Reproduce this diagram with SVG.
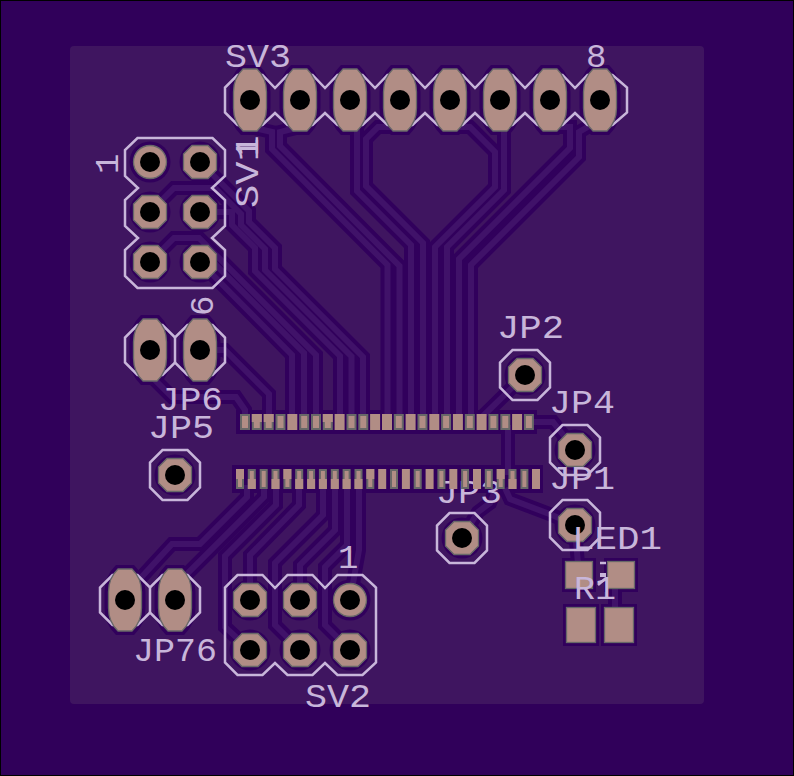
<svg xmlns="http://www.w3.org/2000/svg" xmlns:xlink="http://www.w3.org/1999/xlink" width="794" height="776" viewBox="0 0 794 776">
<style>
.halo{fill:none;stroke:#31005c;stroke-width:14;stroke-linejoin:miter}
.tr{fill:none;stroke:#401269;stroke-width:6;stroke-linejoin:miter}
.hp{fill:#31005c}
.silk{fill:none;stroke:#c8b6da;stroke-width:2.5;stroke-linejoin:miter}
.t{font-family:"Liberation Mono","DejaVu Sans Mono",monospace;font-size:34px;fill:#c8b6da}
.pad{fill:#b18d85;stroke:#686868;stroke-width:1.3}
.hole{fill:#000}
.g{fill:#686868}.p{fill:#b18d85}
</style>
<defs>
<polygon id="oct" class="pad" points="-8,-16.5 8,-16.5 16.5,-8 16.5,8 8,16.5 -8,16.5 -16.5,8 -16.5,-8"/>
<g id="po"><use href="#oct"/><circle class="hole" r="10"/></g>
<g id="pr"><circle class="pad" r="16.5"/><circle class="hole" r="10"/></g>
<g id="pl"><path class="pad" d="M-7,-31 L7,-31 Q16.5,-22 16.5,-8 L16.5,8 Q16.5,22 7,31 L-7,31 Q-16.5,22 -16.5,8 L-16.5,-8 Q-16.5,-22 -7,-31Z"/><circle class="hole" r="10"/></g>
<polygon id="so" class="silk" points="-12.5,-25 12.5,-25 25,-12.5 25,12.5 12.5,25 -12.5,25 -25,12.5 -25,-12.5"/>
<path id="hl" class="hp" d="M-9,-35 L9,-35 Q20.5,-24 20.5,-8 L20.5,8 Q20.5,24 9,35 L-9,35 Q-20.5,24 -20.5,8 L-20.5,-8 Q-20.5,-24 -9,-35Z"/>
<g id="tF"><rect class="g" width="10" height="16"/><rect class="p" x="2" y="2" width="6" height="12"/></g>
<g id="tS"><rect class="p" width="10" height="16"/></g>
<g id="tT"><rect class="g" width="10" height="16"/><rect class="p" y="0" width="10" height="8"/><rect class="p" x="2" y="2" width="6" height="12"/></g>
<g id="bF"><rect class="g" width="8" height="20"/><rect class="p" x="2" y="2" width="4" height="16"/></g>
<g id="bS"><rect class="p" width="8" height="20"/></g>
<g id="bA"><rect class="g" width="8" height="20"/><rect class="p" y="10" width="8" height="10"/><rect class="p" x="2" y="2" width="4" height="10"/></g>
<g id="bB"><rect class="g" width="8" height="20"/><rect class="p" width="8" height="10"/><rect class="p" x="2" y="8" width="4" height="10"/></g>
</defs>

<rect x="0.5" y="0.5" width="793" height="775" fill="#30005a" stroke="#000" stroke-width="1"/>
<rect id="board" x="70" y="46" width="634" height="658" rx="4" fill="#3f1560"/>

<g id="pad-clearance">
<use href="#hl" x="250" y="100"/><use href="#hl" x="300" y="100"/><use href="#hl" x="350" y="100"/><use href="#hl" x="400" y="100"/>
<use href="#hl" x="450" y="100"/><use href="#hl" x="500" y="100"/><use href="#hl" x="550" y="100"/><use href="#hl" x="600" y="100"/>
<use href="#hl" x="150" y="350"/><use href="#hl" x="200" y="350"/><use href="#hl" x="125" y="600"/><use href="#hl" x="175" y="600"/>
<circle class="hp" cx="150" cy="162" r="20.5"/><circle class="hp" cx="200" cy="162" r="20.5"/><circle class="hp" cx="150" cy="212" r="20.5"/><circle class="hp" cx="200" cy="212" r="20.5"/><circle class="hp" cx="150" cy="262" r="20.5"/><circle class="hp" cx="200" cy="262" r="20.5"/>
<circle class="hp" cx="250" cy="600" r="20.5"/><circle class="hp" cx="300" cy="600" r="20.5"/><circle class="hp" cx="350" cy="600" r="20.5"/><circle class="hp" cx="250" cy="650" r="20.5"/><circle class="hp" cx="300" cy="650" r="20.5"/><circle class="hp" cx="350" cy="650" r="20.5"/>
<circle class="hp" cx="175" cy="475" r="20.5"/><circle class="hp" cx="525" cy="375" r="20.5"/><circle class="hp" cx="575" cy="450" r="20.5"/><circle class="hp" cx="575" cy="525" r="20.5"/><circle class="hp" cx="462" cy="538" r="20.5"/>
<rect class="hp" x="562" y="558" width="34" height="34"/><rect class="hp" x="604" y="558" width="34" height="34"/><rect class="hp" x="563" y="604" width="36" height="42"/><rect class="hp" x="601" y="604" width="36" height="42"/>
<rect class="hp" x="236" y="410" width="301" height="24"/><rect class="hp" x="232" y="465" width="311" height="28"/>
</g>

<g id="connectors">
<defs>
<path id="c1" d="M250,127 L272,132 L272,149 L387.5,265 L387.5,420"/>
<path id="c2" d="M300,127 L280,132 L280,146 L399.5,266 L399.5,420"/>
<path id="c3" d="M350,120 L357,130 L357,191 L411,245 L411,420"/>
<path id="c4" d="M400,127 L378,127 L366,139 L366,186 L423,243 L423,420"/>
<path id="c5" d="M450,127 L470,127 L495,152 L495,187 L435,247 L435,420"/>
<path id="c6" d="M500,120 L504,132 L504,190 L447,247 L447,420"/>
<path id="c7" d="M550,127 L570,127 L570,148 L459,259 L459,420"/>
<path id="c8" d="M600,120 L579,132 L579,157 L471,265 L471,420"/>
<path id="c10" d="M200,162 L249,211 L249,222 L275,248 L275,269 L363,357 L363,420"/>
<path id="c9" d="M150,212 L174,188 L215,188 L241,214 L241,225 L265,249 L265,270 L351.5,356.5 L351.5,420"/>
<path id="c88" d="M200,212 L232,212 L232,225 L255,248 L255,271 L340,356 L340,420"/>
<path id="c66" d="M150,262 L174,238 L199,238 L316,355 L316,420"/>
<path id="c55" d="M200,249 L304,353 L304,420"/>
<path id="c44" d="M200,262 L292,355 L292,420"/>
<path id="c22" d="M200,350 L225,350 L269,394 L269,420"/>
<path id="c00" d="M150,375 L172,397 L236,397 L245,410 L245,420"/>
<path id="b1" d="M247,485 L247,497 L200,544 L172,544 L125,595"/>
<path id="b2" d="M264,485 L264,497 L185,576 L175,600"/>
<path id="b3" d="M276,485 L276,505 L225,556 L225,627 L250,650"/>
<path id="b4" d="M299,485 L299,505 L250,555 L250,600"/>
<path id="b5" d="M323,485 L323,515 L275,563 L275,625 L300,650"/>
<path id="b6" d="M335,485 L335,530 L300,565 L300,600"/>
<path id="b7" d="M347,485 L347,545 L325,567 L325,625 L350,650"/>
<path id="b8" d="M359,485 L359,550 L350,600"/>
<path id="r1" d="M525,375 L482,417"/>
<path id="r2" d="M575,450 L553,422 L530,422"/>
<path id="r3" d="M575,525 L552,515 L510,499 L505,488"/>
<path id="r4" d="M462,538 L478,512 L490,503 L496,488"/>
<path id="r5" d="M508,425 L508,475"/>
<path id="r6" d="M579,575 L575,530"/>
<path id="r7" d="M615,575 L615,625"/>
</defs>
<g class="halo">
<use href="#c1"/><use href="#c2"/><use href="#c3"/><use href="#c4"/><use href="#c5"/><use href="#c6"/><use href="#c7"/><use href="#c8"/>
<use href="#c10"/><use href="#c9"/><use href="#c88"/><use href="#c66"/><use href="#c55"/><use href="#c44"/><use href="#c22"/><use href="#c00"/>
<use href="#b1"/><use href="#b2"/><use href="#b3"/><use href="#b4"/><use href="#b5"/><use href="#b6"/><use href="#b7"/><use href="#b8"/>
<use href="#r1"/><use href="#r2"/><use href="#r3"/><use href="#r4"/><use href="#r5"/><use href="#r6"/><use href="#r7"/>
</g>
<g class="tr">
<use href="#c1"/><use href="#c2"/><use href="#c3"/><use href="#c4"/><use href="#c5"/><use href="#c6"/><use href="#c7"/><use href="#c8"/>
<use href="#c10"/><use href="#c9"/><use href="#c88"/><use href="#c66"/><use href="#c55"/><use href="#c44"/><use href="#c22"/><use href="#c00"/>
<use href="#b1"/><use href="#b2"/><use href="#b3"/><use href="#b4"/><use href="#b5"/><use href="#b6"/><use href="#b7"/><use href="#b8"/>
<use href="#r1"/><use href="#r2"/><use href="#r3"/><use href="#r4"/><use href="#r5"/><use href="#r6"/><use href="#r7"/>
</g>
</g>

<g id="SV3">
<polygon class="silk" points="237.5,75 262.5,75 275,88 287.5,75 312.5,75 325,88 337.5,75 362.5,75 375,88 387.5,75 412.5,75 425,88 437.5,75 462.5,75 475,88 487.5,75 512.5,75 525,88 537.5,75 562.5,75 575,88 587.5,75 612.5,75 627,87.5 627,112.5 612.5,125 587.5,125 575,113 562.5,125 537.5,125 525,113 512.5,125 487.5,125 475,113 462.5,125 437.5,125 425,113 412.5,125 387.5,125 375,113 362.5,125 337.5,125 325,113 312.5,125 287.5,125 275,113 262.5,125 237.5,125 225,112.5 225,87.5"/>
<text class="t" x="225" y="67" textLength="66" lengthAdjust="spacingAndGlyphs">SV3</text>
<text class="t" x="586" y="67">8</text>
<text class="t" transform="translate(258,156) rotate(-90)">1</text>
<use href="#pl" x="250" y="100"/><use href="#pl" x="300" y="100"/><use href="#pl" x="350" y="100"/><use href="#pl" x="400" y="100"/>
<use href="#pl" x="450" y="100"/><use href="#pl" x="500" y="100"/><use href="#pl" x="550" y="100"/><use href="#pl" x="600" y="100"/>
</g>

<g id="SV1">
<polygon class="silk" points="137.5,138 212.5,138 225,150 225,176 212,188 225,200 225,226 212,238 225,250 225,276 212.5,288 137.5,288 125,276 125,250 138,238 125,226 125,200 138,188 125,176 125,150"/>
<text class="t" transform="translate(118,174) rotate(-90)">1</text>
<text class="t" transform="translate(213,316) rotate(-90)">6</text>
<text class="t" transform="translate(258,208) rotate(-90)" textLength="70" lengthAdjust="spacingAndGlyphs">SV1</text>
<use href="#pr" x="150" y="162"/><use href="#po" x="200" y="162"/><use href="#po" x="150" y="212"/><use href="#po" x="200" y="212"/><use href="#po" x="150" y="262"/><use href="#po" x="200" y="262"/>
</g>

<g id="JP6">
<polygon class="silk" points="137.5,325 162.5,325 175,337.5 187.5,325 212.5,325 225,337.5 225,362.5 212.5,375 187.5,375 175,362.5 162.5,375 137.5,375 125,362.5 125,337.5"/>
<line class="silk" x1="175" y1="337.5" x2="175" y2="362.5"/>
<text class="t" x="158" y="410" textLength="65" lengthAdjust="spacingAndGlyphs">JP6</text>
<use href="#pl" x="150" y="350"/><use href="#pl" x="200" y="350"/>
</g>

<g id="JP5"><use href="#so" x="175" y="475"/><text class="t" x="148" y="438" textLength="66" lengthAdjust="spacingAndGlyphs">JP5</text><use href="#po" x="175" y="475"/></g>
<g id="JP2"><use href="#so" x="525" y="375"/><text class="t" x="497" y="338" textLength="67" lengthAdjust="spacingAndGlyphs">JP2</text><use href="#po" x="525" y="375"/></g>
<g id="JP4"><use href="#so" x="575" y="450"/><text class="t" x="549" y="413" textLength="66" lengthAdjust="spacingAndGlyphs">JP4</text><use href="#po" x="575" y="450"/></g>
<g id="JP3"><use href="#so" x="462" y="538"/><text class="t" x="436" y="503" textLength="66" lengthAdjust="spacingAndGlyphs">JP3</text><use href="#po" x="462" y="538"/></g>
<g id="JP1"><use href="#so" x="575" y="525"/><text class="t" x="549" y="489" textLength="66" lengthAdjust="spacingAndGlyphs">JP1</text><use href="#po" x="575" y="525"/></g>

<g id="JP7">
<polygon class="silk" points="112.5,575 137.5,575 150,587.5 162.5,575 187.5,575 200,587.5 200,612.5 187.5,625 162.5,625 150,612.5 137.5,625 112.5,625 100,612.5 100,587.5"/>
<line class="silk" x1="150" y1="587.5" x2="150" y2="612.5"/>
<text class="t" x="133" y="661" textLength="84" lengthAdjust="spacingAndGlyphs">JP76</text>
<use href="#pl" x="125" y="600"/><use href="#pl" x="175" y="600"/>
</g>

<g id="SV2">
<polygon class="silk" points="237.5,575 262.5,575 275,588 287.5,575 312.5,575 325,588 337.5,575 362.5,575 376,587.5 376,662.5 362.5,675 337.5,675 325,663 312.5,675 287.5,675 275,663 262.5,675 237.5,675 225,662.5 225,587.5"/>
<text class="t" x="338" y="568">1</text>
<text class="t" x="305" y="707" textLength="66" lengthAdjust="spacingAndGlyphs">SV2</text>
<use href="#po" x="250" y="600"/><use href="#po" x="300" y="600"/><use href="#pr" x="350" y="600"/><use href="#po" x="250" y="650"/><use href="#po" x="300" y="650"/><use href="#po" x="350" y="650"/>
</g>

<g id="LED1">
<text class="t" x="572" y="549" textLength="90" lengthAdjust="spacingAndGlyphs">LED1</text>
<path class="silk" d="M600,563 H606 M598,585 L606,578"/><rect x="600" y="573" width="6" height="4" fill="#c8b6da"/>
<rect class="pad" x="565.5" y="561.5" width="27" height="27"/><rect class="pad" x="607.5" y="561.5" width="27" height="27"/>
</g>

<g id="R1">
<text class="t" x="574" y="599" textLength="42" lengthAdjust="spacingAndGlyphs">R1</text>
<rect class="pad" x="566.5" y="607.5" width="29" height="35"/><rect class="pad" x="604.5" y="607.5" width="29" height="35"/>
</g>

<g id="connector-top">
<use href="#tF" x="240" y="414"/><use href="#tT" x="251.8" y="414"/><use href="#tT" x="263.7" y="414"/><use href="#tF" x="275.5" y="414"/><use href="#tS" x="287.3" y="414"/>
<use href="#tF" x="299.2" y="414"/><use href="#tF" x="311" y="414"/><use href="#tT" x="322.8" y="414"/><use href="#tS" x="334.6" y="414"/><use href="#tF" x="346.5" y="414"/>
<use href="#tF" x="358.3" y="414"/><use href="#tS" x="370.1" y="414"/><use href="#tS" x="382" y="414"/><use href="#tF" x="393.8" y="414"/><use href="#tS" x="405.6" y="414"/>
<use href="#tF" x="417.5" y="414"/><use href="#tS" x="429.3" y="414"/><use href="#tF" x="441.1" y="414"/><use href="#tS" x="452.9" y="414"/><use href="#tF" x="464.8" y="414"/>
<use href="#tS" x="476.6" y="414"/><use href="#tF" x="488.4" y="414"/><use href="#tF" x="500.3" y="414"/><use href="#tS" x="512.1" y="414"/><use href="#tF" x="523.9" y="414"/>
</g>

<g id="connector-bottom">
<use href="#bB" x="236" y="469"/><use href="#bA" x="247.8" y="469"/><use href="#bF" x="259.7" y="469"/><use href="#bA" x="271.5" y="469"/><use href="#bB" x="283.4" y="469"/>
<use href="#bA" x="295.2" y="469"/><use href="#bA" x="307.1" y="469"/><use href="#bA" x="318.9" y="469"/><use href="#bA" x="330.8" y="469"/><use href="#bA" x="342.6" y="469"/>
<use href="#bA" x="354.5" y="469"/><use href="#bB" x="366.3" y="469"/><use href="#bS" x="378.2" y="469"/><use href="#bF" x="390" y="469"/><use href="#bS" x="401.9" y="469"/>
<use href="#bF" x="413.7" y="469"/><use href="#bS" x="425.6" y="469"/><use href="#bF" x="437.4" y="469"/><use href="#bS" x="449.3" y="469"/><use href="#bF" x="461.1" y="469"/>
<use href="#bS" x="473" y="469"/><use href="#bF" x="484.8" y="469"/><use href="#bB" x="496.7" y="469"/><use href="#bA" x="508.5" y="469"/><use href="#bF" x="520.4" y="469"/>
<use href="#bS" x="532" y="469"/>
</g>
</svg>
